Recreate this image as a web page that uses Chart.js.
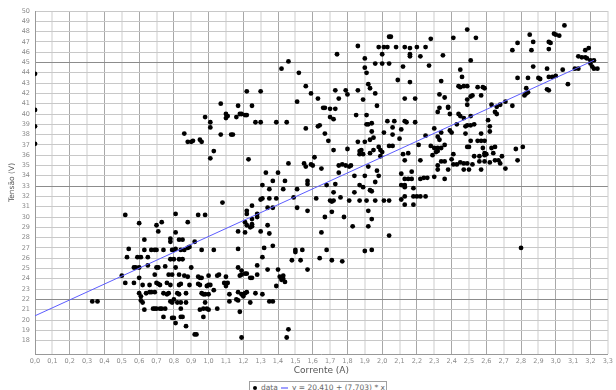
<!DOCTYPE html>
<html>
<head>
<meta charset="utf-8">
<script src="https://cdn.jsdelivr.net/npm/chart.js@4/dist/chart.umd.min.js"></script>
<style>
  html, body { margin: 0; padding: 0; background: #fff; overflow: hidden; }
  #wrap { position: absolute; left: 0; top: -6px; width: 616px; height: 386px; }
  #legenda {
    position: absolute; left: 249px; top: 381px; width: 138px; height: 13px;
    box-sizing: border-box; border: 1px solid #a0a0a0; padding-left: 1px;
    display: flex; align-items: center; white-space: nowrap;
    font: 7.5px "DejaVu Sans", sans-serif; color: #666;
  }
  #legenda .ponto { width: 4px; height: 4px; border-radius: 50%; background: #000; margin: 0 4px 0 2px; }
  #legenda .linha { width: 7px; height: 2px; background: #a0a0ff; margin: 0 4px 0 3px; }
</style>
</head>
<body>
<div id="wrap"><canvas id="grafico" width="616" height="386"></canvas></div>
<div id="legenda"><span class="ponto"></span><span>data</span><span class="linha"></span><span id="eq"></span></div>
<script>
// medições: corrente (A) e tensão (V), lidas ponto a ponto
const corrente = [
  0.00, 0.00, 0.00, 0.00, 0.98, 0.86, 0.88, 0.90, 0.91, 0.95, 0.96, 0.52, 0.60, 0.70, 0.73, 0.71, 0.81, 0.88, 0.94, 0.98,
  0.81, 0.63, 0.78, 0.78, 0.83, 0.85, 0.92,
  0.33, 0.36, 0.50, 0.52, 0.53, 0.54, 0.57, 0.58, 0.57, 0.59, 0.61, 0.60, 0.60, 0.61, 0.61, 0.62, 0.63, 0.60, 0.62, 0.63,
  0.65, 0.65, 0.64, 0.67, 0.69, 0.70, 0.66, 0.67, 0.69, 0.66, 0.69, 0.70, 0.71, 0.71, 0.72, 0.70, 0.68, 0.69, 0.70, 0.72,
  0.73, 0.75, 0.74, 0.74, 0.75, 0.74, 0.76, 0.77, 0.76, 0.77, 0.79, 0.78, 0.78, 0.79, 0.80, 0.79, 0.80, 0.81, 0.79, 0.80,
  0.81, 0.78, 0.80, 0.83, 0.85, 0.81, 0.82, 0.83, 0.82, 0.84, 0.83, 0.84, 0.83, 0.84, 0.84, 0.85, 0.84, 0.86, 0.87, 0.86,
  0.88, 0.87, 0.87, 0.88, 0.89, 0.89, 0.90, 0.92, 0.93, 0.94, 0.95, 0.96, 0.95, 0.96, 0.96, 0.97, 0.97, 0.98, 0.97, 0.99,
  0.99,
  1.03, 1.17, 1.32, 1.37, 1.50, 1.50, 1.54, 1.68, 1.90, 1.94, 1.31, 1.48, 1.53, 1.64, 1.71, 1.77, 1.17, 1.19, 1.28, 1.34,
  1.40, 1.57, 1.00, 1.05, 1.06, 1.10, 1.18, 1.19, 1.21, 1.22, 1.24, 1.25, 1.28, 1.41, 1.42, 1.43, 1.43, 1.44, 1.39, 0.94,
  0.95, 1.00, 1.01, 1.09, 1.10, 1.11, 1.10, 1.03, 0.98, 1.00, 1.12, 1.17, 1.19, 1.20, 1.21, 1.22, 1.20, 1.27, 1.31, 1.16,
  1.17, 1.12, 1.24, 1.35, 1.37, 1.00, 1.05, 1.18, 1.19, 1.46, 1.45,
  2.04, 2.05, 1.86, 1.98, 2.01, 2.03, 2.08, 2.00, 1.74, 1.90, 2.04, 2.00, 1.96, 1.46, 1.42, 2.12, 1.90, 1.52, 1.91, 2.09,
  1.92, 1.93, 1.22, 1.30, 1.56, 1.59, 1.73, 1.79, 1.80, 1.86, 1.96, 1.75, 1.89, 2.13, 1.07, 1.51, 1.63, 1.17, 1.25, 1.97,
  1.66, 1.67, 1.70, 1.73, 1.10, 1.11, 1.10, 1.18, 1.19, 1.21, 1.22, 1.16, 1.85, 1.91, 1.70, 1.72, 1.01, 1.01, 1.27, 1.30,
  1.39, 1.45, 2.03, 2.07, 2.13, 1.91, 1.92, 1.94, 1.63, 1.64, 2.06, 1.56,
  2.11, 1.07, 1.13, 1.14, 1.67, 1.94, 2.01, 2.06, 2.10, 1.90, 1.86, 1.93, 1.95, 1.69, 1.03, 1.72, 1.80, 1.88, 1.87, 1.89,
  1.87, 1.93, 1.95, 1.98, 1.99, 2.00, 2.04, 2.06, 2.12, 1.01, 1.23, 1.61, 1.46, 1.55, 1.56, 1.59, 1.60, 1.65, 1.75, 1.77,
  1.79, 1.81, 1.82, 1.92, 1.33, 1.40, 1.75, 1.97, 1.99, 1.37, 1.44, 1.57, 1.57, 1.84, 1.90, 1.98, 2.11, 1.31, 1.68, 1.73,
  1.87, 1.89, 1.96, 2.11, 2.13, 1.35, 1.43, 1.51, 1.93, 1.94, 1.84, 1.72, 1.31, 1.30, 1.35, 1.39, 1.62, 1.49, 1.70, 1.71,
  1.72, 1.76, 1.81, 1.87, 1.91, 1.96, 2.01, 2.04, 2.11, 2.13, 1.08, 1.25, 1.34, 1.37, 1.51, 1.22, 1.22, 1.57, 1.71, 1.92,
  1.28, 1.28, 1.25, 1.67, 1.78, 1.94, 1.21, 1.22, 1.24, 1.25, 1.25, 1.34, 1.83, 1.92, 1.17, 1.21, 1.30, 1.35, 1.65, 2.04,
  3.05, 2.49, 2.99, 3.00, 3.02, 2.85, 2.28, 2.41, 2.54, 2.78, 2.87, 2.96, 2.97, 2.13, 2.20, 2.25, 2.16, 2.96, 2.75, 2.86,
  3.19, 3.17, 2.16, 2.16, 2.22, 2.35, 3.13, 3.15, 3.17, 3.18, 3.20, 3.22, 3.20, 3.21, 3.22, 3.24, 2.51, 2.27, 2.45, 2.87,
  2.95, 3.04, 3.11, 3.13, 2.46, 2.78, 2.84, 2.90, 2.91, 2.96, 2.98, 3.00, 2.34, 2.16, 3.07, 2.44, 2.45, 2.47, 2.49, 2.55,
  2.58, 2.59, 2.83, 2.95, 2.96, 2.33, 2.36, 2.51, 2.52, 2.57, 2.82, 2.83, 2.84, 2.19, 2.49, 2.71, 2.68, 2.49, 2.63, 2.75,
  2.38, 2.38, 2.33, 2.66, 2.65, 2.66, 2.32, 2.39, 2.44, 2.45, 2.47, 2.51, 2.61, 2.62, 2.14, 2.19, 2.30, 2.48, 2.49, 2.51,
  2.53, 2.43,
  2.34, 2.39, 2.40, 2.25, 2.48, 2.57, 2.62, 2.32, 2.33, 2.51, 2.55, 2.57, 2.59, 2.21, 2.28, 2.30, 2.32, 2.34, 2.36, 2.49,
  2.50, 2.58, 2.59, 2.63, 2.65, 2.64, 2.77, 2.81, 2.15, 2.29, 2.31, 2.32, 2.41, 2.53, 2.56, 2.59, 2.60, 2.69, 2.13, 2.22,
  2.34, 2.36, 2.40, 2.41, 2.43, 2.45, 2.47, 2.49, 2.56, 2.59, 2.62, 2.65, 2.67, 2.68, 2.78, 2.32, 2.52, 2.32, 2.38, 2.47,
  2.50, 2.57, 2.71, 2.17, 2.13, 2.15, 2.17, 2.22, 2.24, 2.26, 2.30, 2.36, 2.13, 2.18, 2.18, 2.20, 2.22, 2.25, 2.13, 2.18,
  2.80
];
const tensao = [
  43.9, 40.4, 38.8, 37.1, 39.7, 38.1, 37.3, 37.3, 37.4, 37.5, 37.3, 30.2, 29.4, 29.2, 29.5, 28.6, 30.3, 29.5, 30.2, 30.2,
  28.5, 27.8, 27.6, 27.9, 27.8, 27.8, 27.6,
  21.8, 21.8, 24.3, 23.6, 26.1, 26.9, 25.1, 25.1, 23.6, 26.1, 26.1, 24.1, 22.6, 22.3, 21.9, 21.7, 21.0, 25.1, 23.4, 26.8,
  25.3, 26.1, 22.6, 26.8, 26.8, 26.8, 22.7, 22.7, 22.7, 23.4, 24.4, 25.1, 25.1, 23.5, 23.4, 23.6, 21.1, 21.1, 21.1, 21.1,
  21.1, 21.1, 20.3, 26.8, 25.2, 22.6, 22.5, 22.6, 23.6, 24.4, 24.4, 23.4, 21.8, 21.7, 22.0, 20.2, 20.2, 19.7, 26.8, 26.8,
  26.9, 25.9, 25.9, 25.9, 25.9, 25.1, 22.6, 22.5, 21.7, 21.7, 23.4, 23.5, 24.4, 21.1, 20.3, 20.3, 26.8, 26.8, 19.4, 24.3,
  24.2, 22.6, 21.7, 27.0, 27.1, 23.4, 25.1, 18.6, 18.6, 24.2, 24.1, 24.1, 21.0, 26.8, 22.6, 22.5, 20.3, 21.7, 21.1, 21.1,
  23.3,
  26.8, 26.9, 27.0, 27.2, 26.8, 26.6, 26.8, 26.8, 26.7, 26.8, 26.1, 25.8, 25.8, 26.0, 25.8, 25.7, 25.1, 24.8, 25.3, 24.9,
  24.9, 24.9, 24.3, 24.3, 24.4, 24.2, 24.3, 24.4, 24.5, 24.5, 24.1, 24.1, 24.4, 24.2, 23.9, 24.0, 24.3, 23.7, 23.3, 23.5,
  23.4, 23.4, 23.4, 23.6, 23.5, 23.6, 23.3, 22.9, 22.5, 22.5, 22.5, 22.7, 22.5, 22.5, 22.6, 22.7, 22.3, 22.6, 22.5, 22.0,
  21.9, 21.8, 21.7, 21.8, 21.8, 21.0, 21.1, 20.8, 18.3, 19.1, 18.3,
  47.5, 47.5, 46.6, 46.5, 46.5, 46.5, 46.5, 45.8, 45.8, 45.4, 44.9, 44.9, 44.9, 45.1, 44.4, 44.6, 44.5, 44.0, 44.0, 43.3,
  42.9, 42.5, 42.2, 42.2, 42.7, 42.0, 42.3, 42.3, 41.9, 42.3, 42.0, 41.5, 41.4, 41.5, 41.0, 41.2, 41.5, 40.8, 40.8, 40.8,
  40.6, 40.6, 40.5, 40.5, 40.0, 39.8, 39.6, 40.0, 40.0, 39.9, 39.9, 39.7, 39.9, 39.9, 39.7, 39.5, 39.2, 38.7, 39.2, 39.2,
  39.2, 39.2, 39.3, 39.3, 39.3, 39.0, 39.0, 39.1, 38.8, 38.9, 38.7, 38.6,
  38.5, 38.0, 38.0, 38.0, 38.1, 38.3, 38.2, 38.0, 37.6, 37.3, 37.3, 37.5, 37.7, 37.4, 36.4, 36.5, 36.6, 36.5, 36.1, 36.1,
  36.4, 36.2, 36.5, 36.8, 36.5, 36.3, 36.9, 36.9, 36.1, 35.7, 35.6, 35.8, 35.2, 35.2, 34.9, 35.1, 35.0, 34.7, 35.0, 35.1,
  35.0, 34.9, 35.0, 34.9, 34.3, 34.3, 34.3, 34.5, 35.9, 33.5, 33.5, 33.5, 33.2, 34.0, 34.0, 34.0, 34.2, 33.1, 33.1, 33.2,
  33.1, 32.9, 33.4, 33.1, 33.1, 32.7, 32.7, 32.7, 32.6, 32.5, 32.4, 32.4, 31.8, 31.7, 31.8, 31.8, 31.8, 31.9, 31.6, 31.5,
  31.6, 31.9, 31.6, 31.6, 31.6, 31.6, 31.6, 31.6, 31.7, 32.0, 31.4, 31.1, 30.9, 30.9, 30.9, 30.6, 30.3, 30.6, 30.5, 30.6,
  30.3, 30.0, 29.8, 30.0, 30.0, 29.8, 29.5, 29.2, 29.0, 29.1, 29.3, 29.2, 29.1, 29.1, 28.6, 28.5, 28.6, 28.4, 28.5, 28.2,
  48.6, 48.2, 47.8, 47.7, 47.6, 47.7, 47.3, 47.4, 47.4, 46.9, 47.0, 47.0, 46.9, 46.5, 46.5, 46.5, 46.4, 46.3, 46.2, 46.2,
  46.4, 46.2, 45.8, 45.6, 45.6, 45.7, 45.6, 45.5, 45.5, 45.4, 45.2, 45.2, 44.9, 44.6, 44.4, 44.4, 45.2, 44.7, 44.3, 44.6,
  44.4, 44.3, 44.4, 44.4, 43.6, 43.5, 43.5, 43.5, 43.4, 43.6, 43.6, 43.7, 43.2, 43.1, 42.9, 42.7, 42.6, 42.7, 42.7, 42.6,
  42.6, 42.5, 42.5, 42.4, 42.3, 41.9, 41.6, 41.7, 41.8, 41.8, 41.8, 42.0, 42.1, 41.5, 41.4, 41.2, 40.9, 40.9, 40.9, 40.8,
  40.7, 40.6, 40.6, 40.7, 40.2, 40.0, 40.2, 40.0, 40.0, 39.8, 39.6, 39.8, 39.4, 38.8, 39.2, 39.2, 38.6, 38.8, 38.9, 38.9,
  39.0, 39.0,
  38.2, 38.4, 38.2, 37.9, 38.1, 38.1, 38.3, 37.8, 37.5, 37.4, 37.4, 37.4, 37.4, 37.0, 36.9, 36.7, 36.7, 36.7, 37.0, 36.8,
  36.8, 36.7, 36.2, 36.7, 36.8, 36.2, 36.6, 36.8, 36.2, 36.0, 36.3, 36.4, 36.1, 35.9, 35.9, 36.0, 36.1, 35.9, 35.5, 35.5,
  35.4, 35.4, 35.6, 35.1, 35.1, 35.3, 35.2, 35.2, 35.4, 35.4, 35.3, 35.5, 35.5, 35.2, 35.5, 35.0, 35.1, 34.6, 34.6, 34.6,
  34.6, 34.6, 34.7, 34.4, 33.7, 33.7, 33.7, 33.7, 33.8, 33.8, 33.9, 33.7, 32.9, 32.8, 32.0, 32.0, 32.0, 32.0, 31.2, 31.2,
  27.0
];

// reta de ajuste y = a + b * x
const ajusteA = 20.410;
const ajusteB = 7.703;
const ajusteX = [0, 3.22];

// eixos
const xMin = 0, xMax = 3.3, xPasso = 0.1;
const yMin = 16.7, yMax = 50, yPasso = 1;
const yLinhasFortes = [22, 33, 45];

const virgula = (v, casas) => v.toFixed(casas).replace('.', ',');
document.getElementById('eq').textContent =
  'y = ' + virgula(ajusteA, 3) + ' + (' + virgula(ajusteB, 3) + ') * x';

const pontos = corrente.map((c, i) => ({ x: c, y: tensao[i] }));
const reta = ajusteX.map(x => ({ x: x, y: ajusteA + ajusteB * x }));

const fonteTick = { family: 'DejaVu Sans', size: 6.5 };

new Chart(document.getElementById('grafico'), {
  type: 'scatter',
  data: {
    datasets: [{
      label: 'y',
      data: reta,
      showLine: true,
      borderColor: '#5c5cff',
      borderWidth: 1,
      pointRadius: 0
    }, {
      label: 'data',
      data: pontos,
      backgroundColor: '#000',
      borderWidth: 0,
      pointRadius: 2.4
    }]
  },
  options: {
    responsive: false,
    animation: false,
    devicePixelRatio: 1,
    layout: { padding: { top: 17, right: 6, bottom: 0, left: 0 } },
    plugins: { legend: { display: false }, tooltip: { enabled: false } },
    scales: {
      x: {
        type: 'linear',
        min: xMin,
        max: xMax,
        afterFit: s => { s.height = 26; },
        ticks: {
          stepSize: xPasso,
          autoSkip: false,
          maxRotation: 0,
          padding: 3,
          color: '#8a8a8a',
          font: fonteTick,
          callback: v => virgula(v, 1)
        },
        grid: {
          drawTicks: false,
          color: ctx => Math.round(ctx.tick.value * 10) % 2 === 0 ? '#a8a8a8' : '#e6e6e6',
          lineWidth: ctx => Math.round(ctx.tick.value * 10) % 2 === 0 ? 1 : 2
        },
        border: { color: '#999' },
        title: {
          display: true,
          text: 'Corrente (A)',
          color: '#555',
          font: { family: 'DejaVu Sans', size: 9 },
          padding: { top: 0, bottom: 4 }
        }
      },
      y: {
        min: yMin,
        max: yMax,
        afterFit: s => { s.width = 35; },
        afterBuildTicks: s => {
          s.ticks = s.ticks.filter(t => Math.abs(t.value - Math.round(t.value)) < 1e-6);
        },
        ticks: {
          stepSize: yPasso,
          autoSkip: false,
          padding: 5,
          color: '#8a8a8a',
          font: fonteTick
        },
        grid: {
          drawTicks: false,
          color: ctx => yLinhasFortes.includes(ctx.tick.value) ? '#8c8c8c' : '#c8c8c8'
        },
        border: { color: '#999' },
        title: {
          display: true,
          text: 'Tensão (V)',
          color: '#555',
          font: { family: 'DejaVu Sans', size: 7.5 },
          padding: { top: 8, bottom: 0 }
        }
      }
    }
  }
});
</script>
</body>
</html>
